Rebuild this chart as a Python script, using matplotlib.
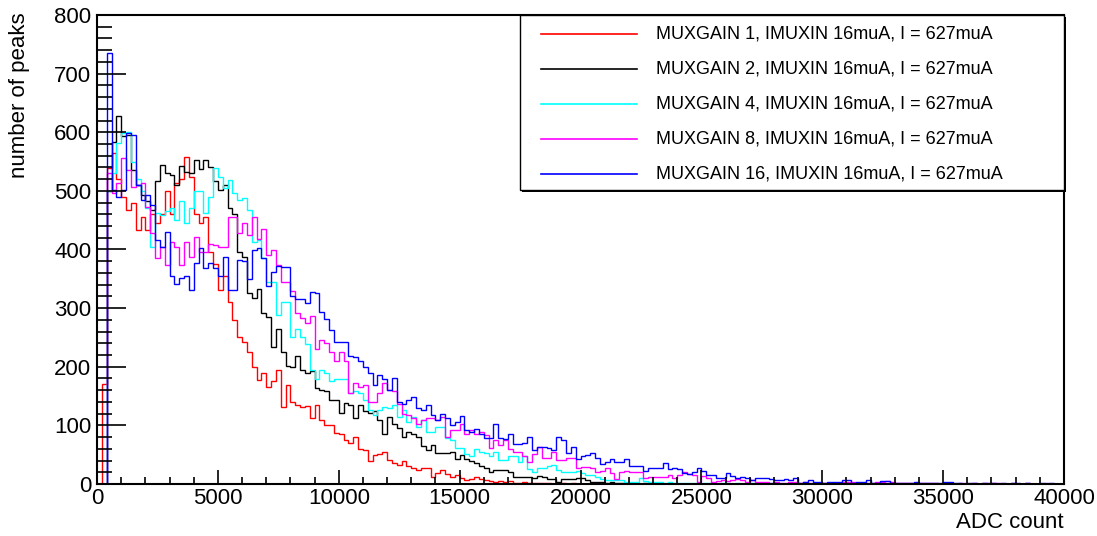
"""
ADC count histograms for several MUXGAIN settings (ROOT style look).
"""
import numpy as np
import matplotlib
matplotlib.use('Agg')
import matplotlib.pyplot as plt
from matplotlib.patches import Rectangle
from matplotlib.lines import Line2D
from matplotlib.ticker import MultipleLocator

plt.rcParams['font.family'] = ['Liberation Sans', 'DejaVu Sans']

# ─── data (counts per 200-ADC bin, starting at 0) ──────────────────
BIN_W = 200
X_MAX = 40000

gain1 = [0, 170, 539, 565, 520, 490, 468, 480, 433, 455, 433, 460, 445, 460, 499, 460, 513, 520, 558, 524,
         461, 446, 455, 396, 376, 331, 354, 311, 280, 251, 243, 225, 200, 178, 190, 165, 175, 195, 132, 169,
         140, 135, 132, 133, 112, 135, 110, 100, 100, 87, 85, 75, 70, 80, 60, 58, 40, 50, 52, 55,
         41, 35, 32, 40, 31, 28, 24, 27, 27, 12, 19, 24, 17, 12, 15, 10, 6, 9, 12, 9,
         6, 5, 4, 5, 3, 5, 2, 2, 3, 2, 1, 2, 1, 1, 0, 1, 1, 0, 1, 0]

gain2 = [0, 0, 500, 584, 627, 593, 595, 536, 510, 493, 483, 468, 516, 544, 530, 527, 510, 542, 533, 531,
         553, 537, 553, 541, 516, 501, 510, 470, 460, 395, 388, 325, 317, 332, 291, 285, 234, 264, 226, 201,
         200, 218, 195, 189, 192, 163, 160, 158, 144, 143, 121, 138, 135, 112, 135, 125, 121, 125, 109, 86,
         115, 103, 95, 81, 88, 86, 81, 64, 58, 67, 53, 53, 53, 55, 42, 49, 43, 40, 36, 30,
         27, 21, 24, 24, 24, 21, 12, 12, 12, 12, 11, 14, 12, 8, 8, 4, 8, 8, 9, 11,
         11, 6, 4, 3, 4, 2, 3, 2, 1, 2, 1, 1, 0, 1]

gain4 = [0, 0, 500, 530, 581, 599, 601, 550, 520, 500, 470, 405, 462, 458, 465, 470, 451, 482, 445, 470,
         500, 500, 462, 490, 539, 524, 505, 519, 497, 484, 487, 468, 413, 416, 385, 345, 345, 288, 311, 311,
         251, 264, 251, 238, 195, 179, 195, 189, 175, 179, 179, 179, 155, 158, 155, 143, 126, 118, 126, 132,
         130, 135, 115, 127, 105, 115, 98, 109, 88, 88, 98, 98, 78, 75, 61, 61, 52, 47, 60, 55,
         53, 47, 55, 41, 41, 48, 48, 38, 47, 25, 21, 27, 27, 30, 32, 24, 21, 21, 21, 23,
         18, 15, 15, 12, 9, 7, 7, 6, 7, 4, 4, 4, 10, 5, 3, 3, 3, 2, 3, 2,
         2, 2, 1, 2, 1, 1, 2, 1, 0, 1, 1, 0, 1, 0, 0, 1, 0, 0, 0, 1]

gain8 = [0, 0, 530, 496, 513, 556, 536, 506, 510, 514, 473, 428, 385, 405, 373, 413, 405, 373, 413, 388,
         422, 396, 396, 410, 408, 405, 405, 456, 456, 428, 445, 425, 455, 418, 435, 391, 399, 374, 345, 345,
         330, 291, 283, 274, 287, 231, 246, 240, 226, 210, 226, 209, 155, 172, 166, 169, 140, 140, 155, 172,
         160, 158, 137, 120, 118, 112, 103, 110, 112, 112, 110, 115, 81, 92, 92, 103, 85, 92, 85, 89,
         83, 61, 75, 67, 75, 59, 55, 55, 47, 38, 52, 63, 44, 44, 55, 41, 41, 44, 44, 28,
         29, 29, 27, 21, 23, 27, 18, 9, 21, 23, 21, 21, 21, 11, 12, 12, 12, 12, 15, 11,
         15, 20, 17, 16, 4, 14, 10, 4, 5, 7, 5, 7, 8, 7, 4, 7, 4, 4, 4, 2,
         4, 2, 2, 3, 4, 2, 3, 2, 2, 1, 2, 2, 1, 2, 3, 4, 3, 2, 2, 1,
         2, 3, 4, 5, 4, 2, 1, 2, 1, 1, 2, 1, 1, 2, 0, 1, 1, 0, 1, 1,
         0, 1, 0, 1, 0, 1, 1, 0, 0, 1, 0, 0, 1, 0, 0, 0, 1, 0, 0, 0]

gain16 = [0, 0, 736, 502, 490, 502, 598, 596, 510, 484, 493, 476, 416, 405, 430, 354, 342, 351, 354, 331,
          377, 402, 368, 377, 368, 354, 388, 331, 331, 382, 381, 349, 399, 402, 385, 338, 362, 372, 371, 370,
          321, 315, 315, 308, 328, 325, 294, 281, 263, 243, 243, 243, 218, 217, 210, 200, 189, 169, 186, 179,
          160, 180, 140, 136, 143, 149, 129, 127, 135, 118, 109, 119, 112, 101, 106, 116, 92, 88, 93, 86,
          78, 78, 103, 78, 76, 85, 69, 69, 70, 80, 58, 63, 63, 61, 58, 80, 75, 53, 63, 42,
          47, 50, 53, 44, 34, 38, 42, 38, 38, 42, 31, 31, 31, 23, 27, 28, 27, 35, 25, 27,
          25, 18, 17, 21, 27, 23, 16, 16, 10, 11, 18, 14, 10, 12, 11, 6, 10, 10, 10, 9,
          7, 7, 8, 7, 11, 2, 4, 6, 4, 4, 2, 4, 4, 4, 7, 7, 2, 3, 4, 6,
          2, 1, 5, 5, 2, 2, 1, 1, 1, 4, 1, 1, 2, 2, 2, 3, 3, 1, 1, 0,
          1, 1, 0, 1, 1, 1, 0, 1, 0, 1, 1, 0, 1, 0, 0, 1, 0, 1, 0, 0]

labels = ['MUXGAIN 1, IMUXIN 16muA, I = 627muA',
          'MUXGAIN 2, IMUXIN 16muA, I = 627muA',
          'MUXGAIN 4, IMUXIN 16muA, I = 627muA',
          'MUXGAIN 8, IMUXIN 16muA, I = 627muA',
          'MUXGAIN 16, IMUXIN 16muA, I = 627muA']
series = [gain1, gain2, gain4, gain8, gain16]
colors = ['#ff0000', '#000000', '#00ffff', '#ff00ff', '#0000ff']

# ─── layout helpers (pixel -> figure fraction) ─────────────────────
W, H = 1097, 536
fx = lambda x: x / W
fy = lambda y: 1 - y / H

fig = plt.figure(figsize=(W / 100, H / 100), dpi=100)
ax = fig.add_axes([fx(97), fy(484), fx(1064) - fx(97), fy(15) - fy(484)])

edges = np.arange(0, X_MAX + BIN_W, BIN_W)
n_bins = len(edges) - 1
for vals, c in zip(series, colors):
    v = np.zeros(n_bins)
    v[:len(vals)] = vals
    ax.stairs(v, edges, color=c, lw=1.0, baseline=0)

ax.set_xlim(0, X_MAX)
ax.set_ylim(0, 800)
ax.xaxis.set_major_locator(MultipleLocator(5000))
ax.xaxis.set_minor_locator(MultipleLocator(1000))
ax.yaxis.set_major_locator(MultipleLocator(100))
ax.yaxis.set_minor_locator(MultipleLocator(20))
ax.tick_params(axis='y', which='major', direction='in', length=21, width=1.2,
               labelsize=16, pad=4)
ax.tick_params(axis='y', which='minor', direction='in', length=10.5, width=1.2)
ax.tick_params(axis='x', which='major', direction='in', length=10, width=1.2,
               labelsize=16, pad=3)
ax.tick_params(axis='x', which='minor', direction='in', length=5, width=1.2)
for s in ax.spines.values():
    s.set_linewidth(1.5)

fig.text(fx(1064), fy(522), 'ADC count', ha='right', va='center', fontsize=16)
fig.text(fx(20), fy(12), 'number of peaks', rotation=90, ha='center', va='top', fontsize=16)

# ─── legend box (ROOT TLegend look) ────────────────────────────────
x0, x1, y0, y1 = 520, 1064, 15, 190
fig.patches.append(Rectangle((fx(x0 + 2), fy(y1 + 2)), fx(x1) - fx(x0), fy(y0) - fy(y1),
                             transform=fig.transFigure, facecolor='#000000',
                             edgecolor='none', zorder=4))
fig.patches.append(Rectangle((fx(x0), fy(y1)), fx(x1) - fx(x0), fy(y0) - fy(y1),
                             transform=fig.transFigure, facecolor='white',
                             edgecolor='black', lw=1.0, zorder=5))
row_y = [34, 69, 104, 139, 174]
for yy, c, lab in zip(row_y, colors, labels):
    fig.lines.append(Line2D([fx(541), fx(637)], [fy(yy), fy(yy)], color=c, lw=1.2,
                            transform=fig.transFigure, zorder=6))
    fig.text(fx(656), fy(yy), lab, ha='left', va='center', fontsize=13, zorder=6)

fig.savefig('out.png', dpi=100)
